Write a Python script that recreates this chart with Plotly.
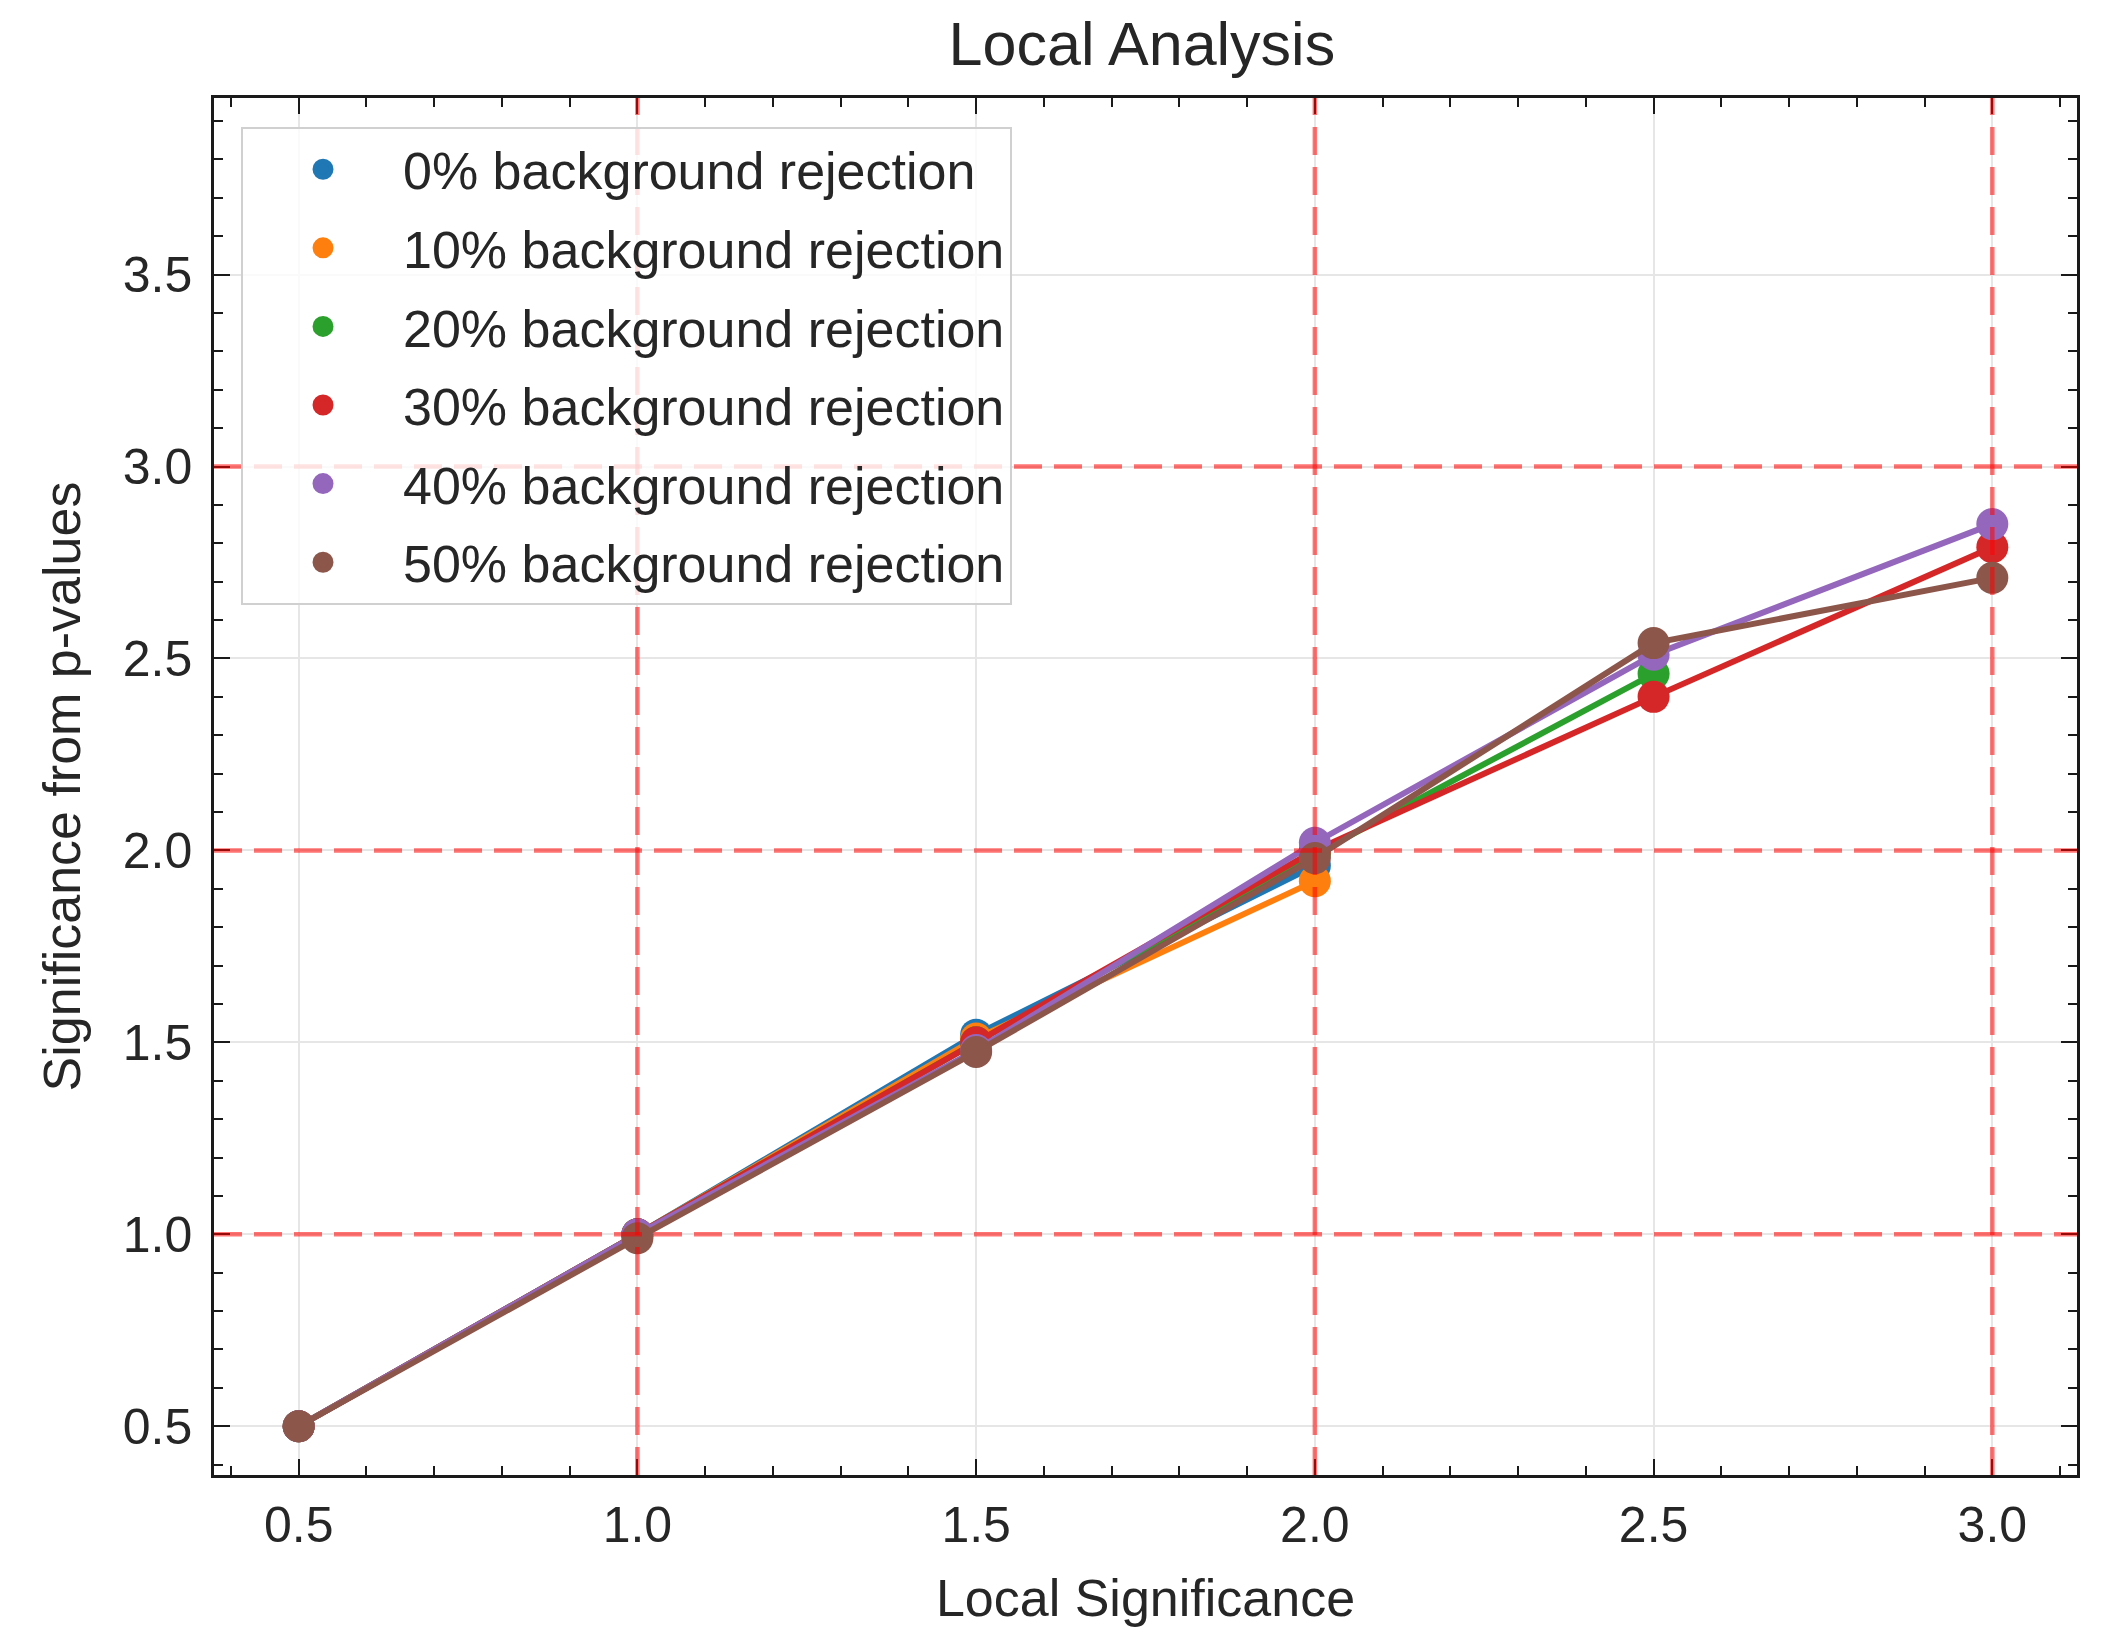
import plotly.graph_objects as go

x_vals = [0.5, 1.0, 1.5, 2.0, 2.5, 3.0]

series_names = [
    "0% background rejection",
    "10% background rejection",
    "20% background rejection",
    "30% background rejection",
    "40% background rejection",
    "50% background rejection",
]
rej_0 = [0.50, 1.00, 1.52, 1.96]
rej_10 = [0.50, 1.00, 1.51, 1.92]
rej_20 = [0.50, 1.00, 1.50, 1.99, 2.46]
rej_30 = [0.50, 1.00, 1.50, 2.00, 2.40, 2.79]
rej_40 = [0.50, 1.00, 1.48, 2.02, 2.51, 2.85]
rej_50 = [0.50, 0.99, 1.475, 1.98, 2.54, 2.71]
series_vals = [rej_0, rej_10, rej_20, rej_30, rej_40, rej_50]
colors = ["#1f77b4", "#ff7f0e", "#2ca02c", "#d62728", "#9467bd", "#8c564b"]

ref_lines = [1.0, 2.0, 3.0]

x_ticks = [0.5, 1.0, 1.5, 2.0, 2.5, 3.0]
y_ticks = [0.5, 1.0, 1.5, 2.0, 2.5, 3.0, 3.5]

FONT = "Liberation Sans, Arial, sans-serif"
TXT = "#262626"

fig = go.Figure()

for name, vals, c in zip(series_names, series_vals, colors):
    fig.add_trace(go.Scatter(
        x=x_vals[:len(vals)], y=vals, mode="lines+markers", name=name,
        line=dict(color=c, width=6), marker=dict(color=c, size=32),
        showlegend=False,
    ))

for i, (name, c) in enumerate(zip(series_names, colors)):
    fig.add_trace(go.Scatter(
        x=[None], y=[None], mode="markers", name=name, legendgroup=f"g{i}",
        marker=dict(color=c, size=16, line=dict(color=c, width=5)),
        showlegend=True,
    ))

# reference dashed lines (drawn on top, semi-transparent)
for v in ref_lines:
    fig.add_vline(x=v, line=dict(color="rgba(255,0,0,0.55)", width=4.5, dash="28px,12px"), layer="above")
    fig.add_hline(y=v, line=dict(color="rgba(255,0,0,0.55)", width=4.5, dash="28px,12px"), layer="above")

axis_common = dict(
    showline=True, linecolor="#1a1a1a", linewidth=2.5, mirror="allticks",
    ticks="inside", ticklen=16, tickwidth=2, tickcolor="#1a1a1a",
    showgrid=True, gridcolor="#e6e6e6", gridwidth=2,
    zeroline=False,
    tickfont=dict(family=FONT, size=50, color=TXT),
    minor=dict(dtick=0.1, ticks="inside", ticklen=9, tickwidth=1.6, tickcolor="#1a1a1a", showgrid=False),
)

fig.update_xaxes(
    range=[0.375, 3.125], tickvals=x_ticks, ticktext=[f"{v:.1f}" for v in x_ticks],
    title=dict(text="Local Significance", font=dict(family=FONT, size=52, color=TXT), standoff=28),
    ticklabelstandoff=4,
    **axis_common,
)
fig.update_yaxes(
    range=[0.373, 3.96], tickvals=y_ticks, ticktext=[f"{v:.1f}" for v in y_ticks],
    title=dict(text="Significance from p-values", font=dict(family=FONT, size=52, color=TXT), standoff=26),
    ticklabelstandoff=9,
    **axis_common,
)

fig.update_layout(
    width=2101, height=1629,
    margin=dict(l=214, r=24, t=98, b=146),
    paper_bgcolor="white", plot_bgcolor="white",
    title=dict(text="Local Analysis", x=0.5435, xanchor="center", y=1 - 44 / 1629, yanchor="middle",
               font=dict(family=FONT, size=61, color=TXT)),
    legend=dict(
        x=0.0145, y=0.979, xanchor="left", yanchor="top",
        font=dict(family=FONT, size=52, color=TXT),
        bgcolor="rgba(255,255,255,0.8)", bordercolor="#d0d0d0", borderwidth=2,
        tracegroupgap=8, itemwidth=150,
    ),
    showlegend=True,
)

fig.write_html("out.html")
